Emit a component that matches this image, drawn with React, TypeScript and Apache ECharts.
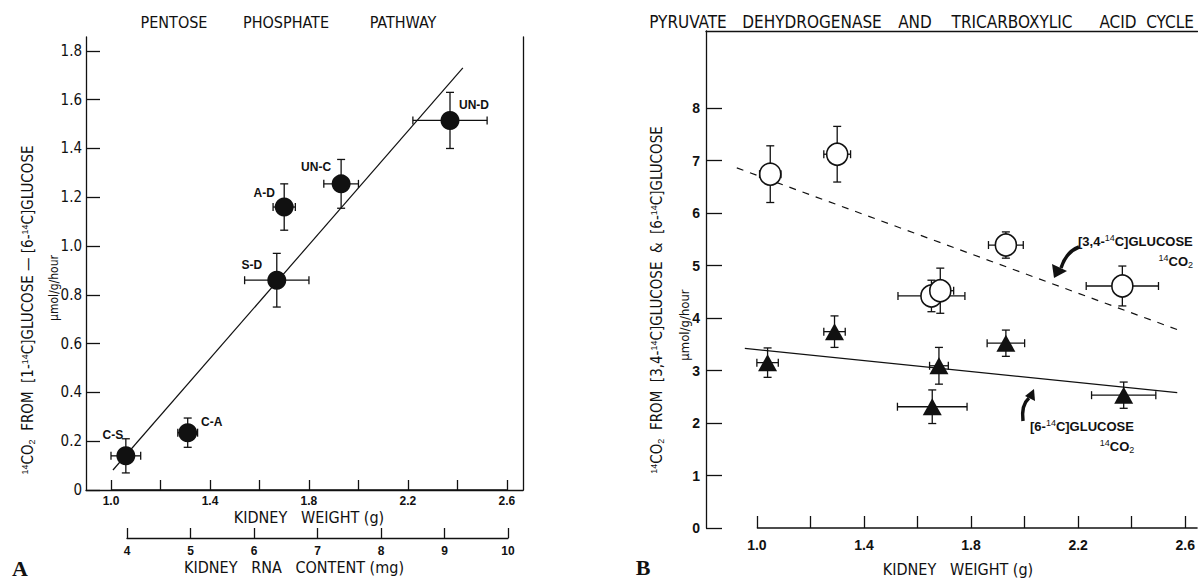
import React, { useEffect, useRef } from "react";
import * as echarts from "echarts";

// ---------- Panel A: pentose phosphate pathway ----------
const ppLabels = ["C-S", "C-A", "S-D", "A-D", "UN-C", "UN-D"];
const ppWeight = [1.06, 1.31, 1.67, 1.7, 1.93, 2.37];
const ppRate = [0.14, 0.235, 0.86, 1.16, 1.255, 1.515];
const ppWeightErr = [0.06, 0.04, 0.13, 0.045, 0.07, 0.15];
const ppRateErr = [0.07, 0.06, 0.11, 0.095, 0.1, 0.115];
const ppFit = [
  [1.008, 0.082],
  [2.422, 1.73],
];
const ppXTicks = [1.0, 1.2, 1.4, 1.6, 1.8, 2.0, 2.2, 2.4, 2.6];
const ppXLabels = [1.0, 1.4, 1.8, 2.2, 2.6];
const ppYTicks = [0, 0.2, 0.4, 0.6, 0.8, 1.0, 1.2, 1.4, 1.6, 1.8];
const rnaTicks = [4, 5, 6, 7, 8, 9, 10];

// ---------- Panel B: PDH and TCA cycle ----------
const c34Weight = [1.05, 1.3, 1.652, 1.685, 1.93, 2.365];
const c34Rate = [6.74, 7.12, 4.42, 4.52, 5.39, 4.61];
const c34WeightErr = [0.04, 0.05, 0.125, 0.05, 0.065, 0.135];
const c34RateErr = [0.54, 0.53, 0.3, 0.43, 0.25, 0.38];
const c6Weight = [1.04, 1.29, 1.655, 1.68, 1.93, 2.37];
const c6Rate = [3.15, 3.74, 2.31, 3.09, 3.52, 2.53];
const c6WeightErr = [0.04, 0.04, 0.13, 0.035, 0.07, 0.12];
const c6RateErr = [0.28, 0.3, 0.32, 0.35, 0.25, 0.25];
const c34Fit = [
  [0.925, 6.86],
  [2.58, 3.76],
];
const c6Fit = [
  [0.955, 3.42],
  [2.57, 2.58],
];
const bXTicks = [1.0, 1.2, 1.4, 1.6, 1.8, 2.0, 2.2, 2.4, 2.6];
const bXLabels = [1.0, 1.4, 1.8, 2.2, 2.6];
const bYTicks = [0, 1, 2, 3, 4, 5, 6, 7, 8];

// label offsets for panel A points (px, relative to point centre)
const ppLabelOffsets = [
  [-13, -21],
  [24, -11],
  [-25, -15],
  [-20, -14],
  [-25, -17],
  [24, -15],
];

const NARROW =
  "'Liberation Sans Narrow', 'DejaVu Sans Condensed', 'Roboto Condensed', 'Liberation Sans', sans-serif";
const SANS = "'Liberation Sans', Arial, sans-serif";
const SERIF = "'Liberation Serif', 'DejaVu Serif', serif";
const INK = "#111";

const axisLineStyle = { color: INK, width: 1.3 };

const supRich = {
  sup: { fontSize: 9, verticalAlign: "top", lineHeight: 16 },
  sub: { fontSize: 9, verticalAlign: "bottom", lineHeight: 16 },
};

function errorBars(xs: number[], ys: number[], exs: number[], eys: number[]) {
  return xs.map((x, i) => [x, ys[i], exs[i], eys[i]]);
}

const renderErr = (params: any, api: any) => {
  const x = api.value(0);
  const y = api.value(1);
  const ex = api.value(2);
  const ey = api.value(3);
  const l = api.coord([x - ex, y]);
  const r = api.coord([x + ex, y]);
  const t = api.coord([x, y + ey]);
  const b = api.coord([x, y - ey]);
  const cap = 4;
  const st = { stroke: INK, lineWidth: 1.3 };
  return {
    type: "group",
    children: [
      { type: "line", shape: { x1: l[0], y1: l[1], x2: r[0], y2: r[1] }, style: st },
      { type: "line", shape: { x1: l[0], y1: l[1] - cap, x2: l[0], y2: l[1] + cap }, style: st },
      { type: "line", shape: { x1: r[0], y1: r[1] - cap, x2: r[0], y2: r[1] + cap }, style: st },
      { type: "line", shape: { x1: t[0], y1: t[1], x2: b[0], y2: b[1] }, style: st },
      { type: "line", shape: { x1: t[0] - cap, y1: t[1], x2: t[0] + cap, y2: t[1] }, style: st },
      { type: "line", shape: { x1: b[0] - cap, y1: b[1], x2: b[0] + cap, y2: b[1] }, style: st },
    ],
  };
};

function txt(text: string, x: number, y: number, opts: any = {}) {
  return {
    type: "text",
    x,
    y,
    rotation: opts.rotation || 0,
    silent: true,
    style: {
      text,
      x: 0,
      y: 0,
      fill: INK,
      fontSize: opts.fontSize || 14,
      fontWeight: opts.fontWeight || "normal",
      fontFamily: opts.fontFamily || NARROW,
      align: opts.align || "center",
      verticalAlign: "middle",
      rich: supRich,
    },
  };
}

export default function App() {
  const ref = useRef<HTMLDivElement>(null);

  useEffect(() => {
    if (!ref.current) return;
    const chart = echarts.init(ref.current, undefined, { renderer: "svg" });

    const AX0 = { min: 0.899, max: 2.665 };
    const AY0 = { min: 0, max: 1.857 };
    const BX = { min: 0.81, max: 2.646 };
    const BY = { min: 0, max: 9.467 };

    const option: any = {
      animation: false,
      backgroundColor: "#fff",
      grid: [
        { left: 86, top: 37, width: 437, height: 453, containLabel: false },
        { left: 127, top: 537, width: 381, height: 1, containLabel: false },
        { left: 706, top: 31, width: 492, height: 497, containLabel: false },
      ],
      xAxis: [
        {
          gridIndex: 0,
          type: "value",
          ...AX0,
          axisLine: { show: false },
          axisTick: { show: true, inside: true, length: 10, customValues: ppXTicks, lineStyle: axisLineStyle },
          axisLabel: {
            customValues: ppXLabels,
            formatter: (v: number) => v.toFixed(1),
            margin: 5,
            fontSize: 12,
            fontWeight: "bold",
            color: INK,
            fontFamily: SANS,
          },
          splitLine: { show: false },
        },
        {
          gridIndex: 0,
          type: "value",
          position: "top",
          ...AX0,
          axisLine: { show: true, lineStyle: axisLineStyle },
          axisTick: { show: false },
          axisLabel: { show: false },
          splitLine: { show: false },
        },
        {
          gridIndex: 1,
          type: "value",
          position: "bottom",
          min: 4,
          max: 10,
          interval: 1,
          axisLine: { show: true, onZero: false, lineStyle: axisLineStyle },
          axisTick: { show: true, inside: true, length: 10, lineStyle: axisLineStyle },
          axisLabel: {
            customValues: rnaTicks,
            margin: 7,
            fontSize: 12,
            fontWeight: "bold",
            color: INK,
            fontFamily: SANS,
          },
          splitLine: { show: false },
        },
        {
          gridIndex: 2,
          type: "value",
          ...BX,
          axisLine: { show: false },
          axisTick: { show: true, inside: true, length: 12, customValues: bXTicks, lineStyle: axisLineStyle },
          axisLabel: {
            customValues: bXLabels,
            formatter: (v: number) => v.toFixed(1),
            margin: 10,
            fontSize: 14,
            fontWeight: "bold",
            color: INK,
            fontFamily: SANS,
          },
          splitLine: { show: false },
        },
        {
          gridIndex: 2,
          type: "value",
          position: "top",
          ...BX,
          axisLine: { show: true, lineStyle: axisLineStyle },
          axisTick: { show: false },
          axisLabel: { show: false },
          splitLine: { show: false },
        },
      ],
      yAxis: [
        {
          gridIndex: 0,
          type: "value",
          ...AY0,
          axisLine: { show: true, lineStyle: axisLineStyle },
          axisTick: { show: true, inside: true, length: 14, customValues: ppYTicks, lineStyle: axisLineStyle },
          axisLabel: {
            customValues: ppYTicks,
            formatter: (v: number) => (v === 0 ? "0" : v.toFixed(1)),
            margin: 4,
            fontSize: 15,
            color: INK,
            fontFamily: NARROW,
          },
          splitLine: { show: false },
        },
        {
          gridIndex: 0,
          type: "value",
          position: "right",
          ...AY0,
          axisLine: { show: true, lineStyle: axisLineStyle },
          axisTick: { show: false },
          axisLabel: { show: false },
          splitLine: { show: false },
        },
        { gridIndex: 1, type: "value", show: false, min: 0, max: 1 },
        {
          gridIndex: 2,
          type: "value",
          ...BY,
          axisLine: { show: true, lineStyle: axisLineStyle },
          axisTick: { show: true, inside: true, length: 16, customValues: bYTicks, lineStyle: axisLineStyle },
          axisLabel: {
            customValues: bYTicks,
            margin: 6,
            fontSize: 14,
            fontWeight: "bold",
            color: INK,
            fontFamily: SANS,
          },
          splitLine: { show: false },
        },
      ],
      series: [
        // ---- Panel A ----
        {
          type: "line",
          xAxisIndex: 0,
          yAxisIndex: 0,
          data: [
            [1.0, 0],
            [2.6, 0],
          ],
          showSymbol: false,
          clip: false,
          lineStyle: { color: INK, width: 1.3 },
          z: 1,
          silent: true,
        },
        {
          type: "line",
          xAxisIndex: 0,
          yAxisIndex: 0,
          data: ppFit,
          showSymbol: false,
          lineStyle: { color: INK, width: 1.2 },
          z: 1,
          silent: true,
        },
        {
          type: "custom",
          xAxisIndex: 0,
          yAxisIndex: 0,
          renderItem: renderErr,
          encode: { x: 0, y: 1 },
          data: errorBars(ppWeight, ppRate, ppWeightErr, ppRateErr),
          z: 2,
          silent: true,
        },
        {
          type: "scatter",
          xAxisIndex: 0,
          yAxisIndex: 0,
          symbol: "circle",
          symbolSize: 19,
          itemStyle: { color: INK, opacity: 1 },
          z: 3,
          data: ppWeight.map((x, i) => ({
            value: [x, ppRate[i]],
            label: {
              show: true,
              formatter: ppLabels[i],
              position: "inside",
              offset: ppLabelOffsets[i],
              color: INK,
              fontSize: 12,
              fontWeight: "bold",
              fontFamily: SANS,
            },
          })),
        },
        // ---- Panel B ----
        {
          type: "line",
          xAxisIndex: 3,
          yAxisIndex: 3,
          data: [
            [1.0, 0],
            [BX.max, 0],
          ],
          showSymbol: false,
          clip: false,
          lineStyle: { color: INK, width: 1.3 },
          z: 1,
          silent: true,
        },
        {
          type: "line",
          xAxisIndex: 3,
          yAxisIndex: 3,
          data: c34Fit,
          showSymbol: false,
          lineStyle: { color: INK, width: 1.2, type: [7, 7] },
          z: 1,
          silent: true,
        },
        {
          type: "line",
          xAxisIndex: 3,
          yAxisIndex: 3,
          data: c6Fit,
          showSymbol: false,
          lineStyle: { color: INK, width: 1.2 },
          z: 1,
          silent: true,
        },
        {
          type: "custom",
          xAxisIndex: 3,
          yAxisIndex: 3,
          renderItem: renderErr,
          encode: { x: 0, y: 1 },
          data: errorBars(c34Weight, c34Rate, c34WeightErr, c34RateErr),
          z: 2,
          silent: true,
        },
        {
          type: "custom",
          xAxisIndex: 3,
          yAxisIndex: 3,
          renderItem: renderErr,
          encode: { x: 0, y: 1 },
          data: errorBars(c6Weight, c6Rate, c6WeightErr, c6RateErr),
          z: 2,
          silent: true,
        },
        {
          type: "scatter",
          xAxisIndex: 3,
          yAxisIndex: 3,
          symbol: "circle",
          symbolSize: [21, 22],
          itemStyle: { color: "#fff", borderColor: INK, borderWidth: 1.6, opacity: 1 },
          z: 3,
          data: c34Weight.map((x, i) => [x, c34Rate[i]]),
        },
        {
          type: "scatter",
          xAxisIndex: 3,
          yAxisIndex: 3,
          symbol: "triangle",
          symbolSize: [19, 17],
          itemStyle: { color: INK, opacity: 1 },
          z: 3,
          data: c6Weight.map((x, i) => [x, c6Rate[i]]),
        },
      ],
      graphic: [
        // Panel A titles
        txt("PENTOSE", 174, 22, { fontSize: 16 }),
        txt("PHOSPHATE", 286, 22, { fontSize: 16 }),
        txt("PATHWAY", 403, 22, { fontSize: 16 }),
        txt(
          "{sup|14}CO{sub|2}\u00a0\u00a0FROM\u00a0\u00a0[1-{sup|14}C]GLUCOSE\u00a0\u2014\u00a0[6-{sup|14}C]GLUCOSE",
          28,
          310,
          { fontSize: 15, rotation: Math.PI / 2 }
        ),
        txt("\u00b5mol/g/hour", 54, 288, { fontSize: 12, rotation: Math.PI / 2 }),
        txt("KIDNEY\u00a0\u00a0\u00a0WEIGHT\u00a0(g)", 309, 517, { fontSize: 16 }),
        txt("KIDNEY\u00a0\u00a0\u00a0RNA\u00a0\u00a0\u00a0CONTENT\u00a0(mg)", 294, 567, { fontSize: 16 }),
        txt("A", 20, 568, { fontSize: 22, fontWeight: "bold", fontFamily: SERIF }),
        // Panel B titles
        txt("PYRUVATE", 688, 22, { fontSize: 17 }),
        txt("DEHYDROGENASE", 812, 22, { fontSize: 17 }),
        txt("AND", 915, 22, { fontSize: 17 }),
        txt("TRICARBOXYLIC", 1012, 22, { fontSize: 17 }),
        txt("ACID", 1118, 22, { fontSize: 17 }),
        txt("CYCLE", 1170, 22, { fontSize: 17 }),
        txt(
          "{sup|14}CO{sub|2}\u00a0\u00a0FROM\u00a0\u00a0[3,4-{sup|14}C]GLUCOSE\u00a0\u00a0&\u00a0\u00a0[6-{sup|14}C]GLUCOSE",
          657,
          300,
          { fontSize: 15, rotation: Math.PI / 2 }
        ),
        txt("\u00b5mol/g/hour", 684, 325, { fontSize: 13, rotation: Math.PI / 2 }),
        txt("KIDNEY\u00a0\u00a0\u00a0WEIGHT\u00a0(g)", 958, 569, { fontSize: 16 }),
        txt("B", 643, 567, { fontSize: 22, fontWeight: "bold", fontFamily: SERIF }),
        // annotations
        txt("[3,4-{sup|14}C]GLUCOSE", 1078, 241, { fontSize: 13, fontWeight: "bold", fontFamily: SANS, align: "left" }),
        txt("{sup|14}CO{sub|2}", 1193, 261, { fontSize: 13, fontWeight: "bold", fontFamily: SANS, align: "right" }),
        txt("[6-{sup|14}C]GLUCOSE", 1030, 426, { fontSize: 13, fontWeight: "bold", fontFamily: SANS, align: "left" }),
        txt("{sup|14}CO{sub|2}", 1117, 446, { fontSize: 13, fontWeight: "bold", fontFamily: SANS }),
        {
          type: "bezierCurve",
          silent: true,
          shape: { x1: 1079, y1: 247, x2: 1061, y2: 268, cpx1: 1066, cpy1: 252 },
          style: { stroke: INK, lineWidth: 3.5, fill: null },
        },
        {
          type: "polygon",
          silent: true,
          shape: { points: [[1054, 278], [1052, 264], [1067, 271]] },
          style: { fill: INK },
        },
        {
          type: "bezierCurve",
          silent: true,
          shape: { x1: 1023, y1: 421, x2: 1029, y2: 398, cpx1: 1021, cpy1: 405 },
          style: { stroke: INK, lineWidth: 3.5, fill: null },
        },
        {
          type: "polygon",
          silent: true,
          shape: { points: [[1034, 389], [1025, 396], [1035, 401]] },
          style: { fill: INK },
        },
      ],
    };

    chart.setOption(option);
    return () => chart.dispose();
  }, []);

  return (
    <div
      ref={ref}
      style={{ position: "fixed", left: 0, top: 0, width: 1198, height: 579, background: "#fff" }}
    />
  );
}
